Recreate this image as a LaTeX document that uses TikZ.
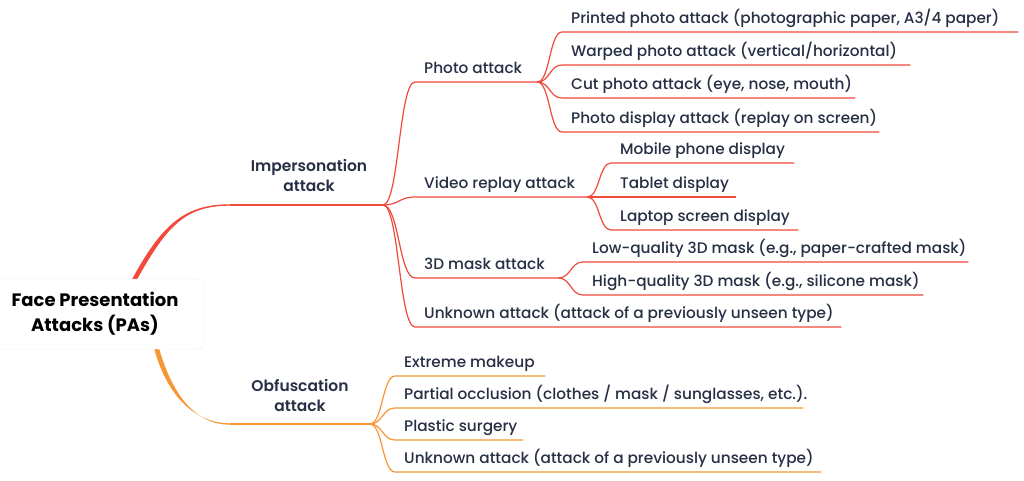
\documentclass[tikz,border=0pt]{standalone}
\usepackage{fontspec}
\setmainfont{Poppins}[UprightFont=* Medium, BoldFont=* SemiBold]
\newfontfamily\rootfont{Poppins}[UprightFont=* Bold]
\usetikzlibrary{calc}
\definecolor{rd}{RGB}{240,74,60}
\definecolor{og}{RGB}{246,150,52}
\definecolor{txt}{RGB}{38,47,68}
\newcommand{\lbox}[2]{\makebox[#1pt][l]{\hspace*{9pt}#2}}
\begin{document}
\begin{tikzpicture}[x=1pt,y=-1pt,
  leaf/.style={anchor=south west, inner xsep=0pt, inner ysep=8.5pt, text depth=0pt, text=txt, font=\fontsize{15.3}{17}\selectfont},
  lab/.style={anchor=south, inner sep=0pt, align=center, text=txt, font=\fontsize{15.5}{20.5}\selectfont\bfseries},
  rootbox/.style={draw=black!7, fill=white, rounded corners=5pt, minimum width=218pt, minimum height=70pt, align=center, text=black, font=\fontsize{18}{25}\rootfont},
  rl/.style={draw=rd, line width=1.2pt},
  ol/.style={draw=og, line width=1.2pt}]
\useasboundingbox (0,0) rectangle (1024,481);
\fill[white] (0,0) rectangle (1024,481);

% level 1 labels and hubs
\node[lab] (imp) at (309,192) {Impersonation\\attack};
\node[lab] (obf) at (300,412) {Obfuscation\\attack};
\coordinate (i0) at (230,205);
\coordinate (h1) at (383,205);
\coordinate (o0) at (230,424);
\coordinate (h2) at (370,424);

% root node (drawn later on top), positions for root connectors
\path (95,314) node[rootbox, draw=none, fill=none, text=white] (rootpos) {\phantom{Face Presentation}\\\phantom{Attacks (PAs)}};
\coordinate (rs) at ([xshift=149pt]rootpos.north west);
\coordinate (os) at ([xshift=171pt]rootpos.south west);

% tapered root connectors
\fill[rd] ($(rs)+(-2.5,0)$) .. controls ($(rs)+(27.5,-55)$) and ($(i0)+(-45,-0.7)$) .. ($(i0)+(0,-0.7)$)
  -- ($(i0)+(0,0.7)$) .. controls ($(i0)+(-45,0.7)$) and ($(rs)+(32.5,-53)$) .. ($(rs)+(2.5,0)$) -- cycle;
\draw[rl] (i0) -- (h1);
\fill[og] ($(os)+(-2.5,0)$) .. controls ($(os)+(10.5,47)$) and ($(o0)+(-35,-0.7)$) .. ($(o0)+(0,-0.7)$)
  -- ($(o0)+(0,0.7)$) .. controls ($(o0)+(-35,0.7)$) and ($(os)+(15.5,45)$) .. ($(os)+(2.5,0)$) -- cycle;
\draw[ol] (o0) -- (h2);

% level 2 (impersonation)
\node[leaf] (pa) at (415,82)  {\lbox{122}{Photo attack}};
\node[leaf] (vr) at (415,197) {\lbox{172}{Video replay attack}};
\node[leaf] (ma) at (415,278) {\lbox{143}{3D mask attack}};
\node[leaf] (ua) at (415,327) {\lbox{426}{Unknown attack (attack of a previously unseen type)}};
\foreach \n in {pa,vr,ma,ua}
  \draw[rl] (h1) .. controls +(16,0) and +(-16,0) .. (\n.south west) -- (\n.south east);

% photo attack children
\node[leaf] (p1) at (562,32)  {\lbox{456}{Printed photo attack (photographic paper, A3/4 paper)}};
\node[leaf] (p2) at (562,65)  {\lbox{348}{Warped photo attack (vertical/horizontal)}};
\node[leaf] (p3) at (562,98)  {\lbox{293}{Cut photo attack (eye, nose, mouth)}};
\node[leaf] (p4) at (562,132) {\lbox{317}{Photo display attack (replay on screen)}};
\foreach \n in {p1,p2,p3,p4}
  \draw[rl] (pa.south east) .. controls +(12.5,0) and +(-12.5,0) .. (\n.south west) -- (\n.south east);

% video replay children
\node[leaf] (v1) at (611,163) {\lbox{183}{Mobile phone display}};
\node[leaf] (v2) at (611,197) {\lbox{125}{Tablet display}};
\node[leaf] (v3) at (611,230) {\lbox{187}{Laptop screen display}};
\foreach \n in {v1,v2,v3}
  \draw[rl] (vr.south east) .. controls +(12,0) and +(-12,0) .. (\n.south west) -- (\n.south east);

% 3D mask children
\node[leaf] (m1) at (583,262) {\lbox{385}{Low-quality 3D mask (e.g., paper-crafted mask)}};
\node[leaf] (m2) at (583,295) {\lbox{340}{High-quality 3D mask (e.g., silicone mask)}};
\foreach \n in {m1,m2}
  \draw[rl] (ma.south east) .. controls +(12.5,0) and +(-12.5,0) .. (\n.south west) -- (\n.south east);

% obfuscation children
\node[leaf] (o1) at (395,376) {\lbox{150}{Extreme makeup}};
\node[leaf] (o2) at (395,408) {\lbox{408}{Partial occlusion (clothes / mask / sunglasses, etc.).}};
\node[leaf] (o3) at (395,440) {\lbox{128}{Plastic surgery}};
\node[leaf] (o4) at (395,472) {\lbox{426}{Unknown attack (attack of a previously unseen type)}};
\foreach \n in {o1,o2,o3,o4}
  \draw[ol] (h2) .. controls +(12.5,0) and +(-12.5,0) .. (\n.south west) -- (\n.south east);

% root node on top
\node[rootbox] (root) at (95,314) {Face Presentation\\Attacks (PAs)};
\end{tikzpicture}
\end{document}
